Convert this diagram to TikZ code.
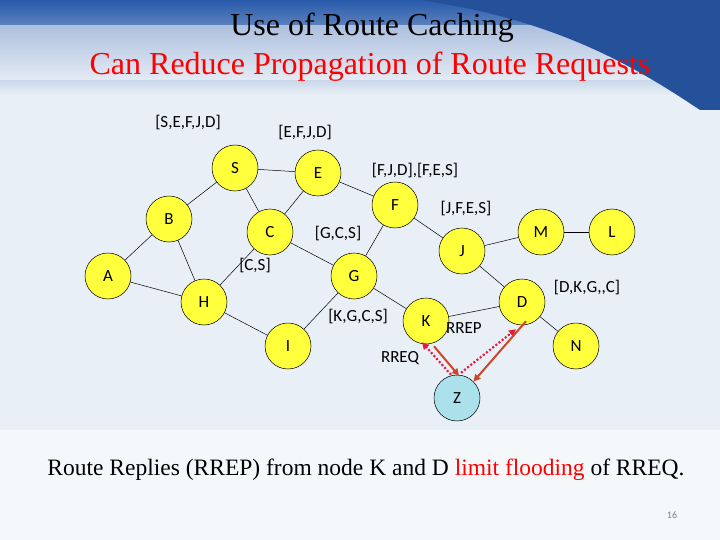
\documentclass[tikz,border=0pt]{standalone}
\usepackage{fontspec}
\setmainfont{Liberation Serif}
\newfontfamily\carl{Carlito}
\usetikzlibrary{arrows.meta}
\definecolor{bgl}{RGB}{232,239,246}
\definecolor{bandb}{RGB}{40,90,170}
\definecolor{nodey}{RGB}{255,255,60}
\definecolor{nodez}{RGB}{170,225,235}
\definecolor{rrep}{RGB}{205,70,40}
\definecolor{rreq}{RGB}{225,30,60}
\begin{document}
\begin{tikzpicture}[x=1pt,y=-1pt,
  nd/.style={circle,draw=black,line width=0.5pt,fill=nodey,minimum size=46pt,inner sep=0pt,font=\carl\fontsize{17}{17}\selectfont},
  lb/.style={font=\carl\fontsize{17}{17}\selectfont},
  ed/.style={line width=0.5pt}]
\useasboundingbox (0,0) rectangle (720,540);
\fill[bgl] (0,0) rectangle (720,540);
\shade[top color=bandb,bottom color=bgl] (0,0) rectangle (720,95);
\fill[white,opacity=0.5] (0,25) rectangle (720,80);
\fill[bandb!90!black] (420,0) .. controls (560,20) and (640,70) .. (700,110) -- (720,110) -- (720,0) -- cycle;
\fill[white,opacity=0.6] (0,430) rectangle (720,540);
\node at (372,28) {\fontsize{32}{32}\selectfont Use of Route Caching};
\node[red] at (370,67) {\fontsize{32}{32}\selectfont Can Reduce Propagation of Route Requests};

\node[nd] (S) at (235,168) {S};
\node[nd] (E) at (318,173) {E};
\node[nd] (B) at (169,219) {B};
\node[nd] (C) at (270,232) {C};
\node[nd] (F) at (395,205) {F};
\node[nd] (A) at (108,276) {A};
\node[nd] (H) at (204,302) {H};
\node[nd] (G) at (354,276) {G};
\node[nd] (J) at (462,251) {J};
\node[nd] (M) at (541,232) {M};
\node[nd] (L) at (612,232) {L};
\node[nd] (D) at (522,302) {D};
\node[nd] (K) at (426,321) {K};
\node[nd] (I) at (288,346) {I};
\node[nd] (N) at (576,346) {N};
\node[nd,fill=nodez] (Z) at (457,398) {Z};

\foreach \a/\b in {S/E,S/B,S/C,E/C,E/F,B/A,B/H,A/H,H/C,H/I,C/G,F/G,F/J,G/K,G/I,J/M,M/L,J/D,K/D,D/N}
  \draw[ed] (\a) -- (\b);

\node[lb] (l1) at (188,123) {[S,E,F,J,D]};
\node[lb] (l2) at (305,133) {[E,F,J,D]};
\node[lb] (l3) at (415,171) {[F,J,D],[F,E,S]};
\node[lb] (l4) at (466,209) {[J,F,E,S]};
\node[lb] (l5) at (338,234) {[G,C,S]};
\node[lb] (l6) at (255,266) {[C,S]};
\node[lb] (l7) at (358,317) {[K,G,C,S]};
\node[lb] (l8) at (587,288) {[D,K,G,,C]};
\node[lb] (l9) at (464,328) {RREP};
\node[lb] (l10) at (400,358) {RREQ};

\draw[rreq,line width=2.2pt,dash pattern=on 2pt off 2pt,-{Triangle[length=7pt,width=7pt]}] ([xshift=-6pt]Z.north) -- ([xshift=-4pt,yshift=2pt]K.south);
\draw[rreq,line width=2.2pt,dash pattern=on 2pt off 2pt,-{Triangle[length=7pt,width=7pt]}] ([xshift=4pt,yshift=2pt]Z.north) -- ([xshift=-6pt,yshift=-4pt]D.south);
\draw[rrep,line width=2pt,-{Triangle[length=7pt,width=7pt]}] ([xshift=8pt,yshift=-2pt]K.south) -- ([xshift=2pt,yshift=-1pt]Z.north);
\draw[rrep,line width=2pt,-{Triangle[length=7pt,width=7pt]}] ([xshift=4pt,yshift=4pt]D.south) -- (Z.north east);

\node (bot) at (366,470) {\fontsize{23.5}{24}\selectfont Route Replies (RREP) from node K and D \textcolor{red}{limit flooding} of RREQ.};
\node[gray] (pg) at (672,515) {\fontsize{10}{10}\selectfont\carl 16};
\end{tikzpicture}
\end{document}
